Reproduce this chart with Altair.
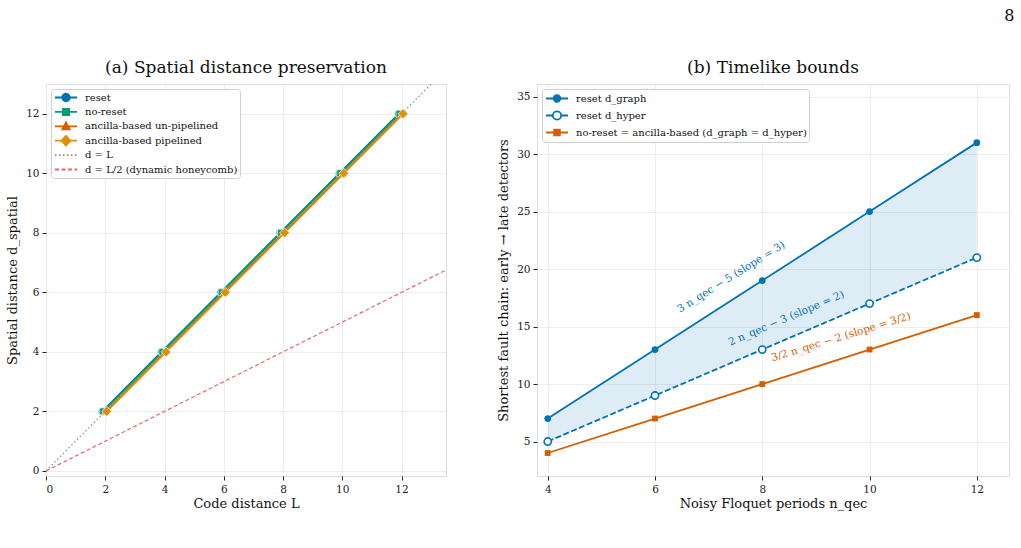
import altair as alt
import pandas as pd

FONT = "DejaVu Serif"

# ---------------- (a) spatial distance preservation ----------------
code_distance = [2, 4, 6, 8, 10, 12]
d_reset = [2, 4, 6, 8, 10, 12]
d_no_reset = [2, 4, 6, 8, 10, 12]
d_anc_unpipelined = [2, 4, 6, 8, 10, 12]
d_anc_pipelined = [2, 4, 6, 8, 10, 12]

# reference lines d = L and d = L/2, drawn across the whole x range
ref_L = [0, 13.5]
ref_full = [0, 13.5]
ref_half = [0, 6.75]

# ---------------- (b) timelike bounds ----------------
n_qec = [4, 6, 8, 10, 12]
reset_graph = [7, 13, 19, 25, 31]
reset_hyper = [5, 9, 13, 17, 21]
no_reset_b = [4, 7, 10, 13, 16]

BLUE = "#0173B2"
GREEN = "#029E73"
VERMILION = "#D55E00"
GOLD = "#DE8F05"
GREY = "#8a8a8a"
LIGHTRED = "#e06a6a"

# overlapping series in (a) are nudged sideways so each stays visible
series_a = [
    dict(name="reset", values=d_reset, color=BLUE, shape="circle", size=64, dodge=-0.10),
    dict(name="no-reset", values=d_no_reset, color=GREEN, shape="square", size=49, dodge=-0.07),
    dict(name="ancilla-based un-pipelined", values=d_anc_unpipelined, color=VERMILION,
         shape="triangle-up", size=64, dodge=0.02),
    dict(name="ancilla-based pipelined", values=d_anc_pipelined, color=GOLD,
         shape="diamond", size=100, dodge=0.05),
]


# legend swatches: a short line segment with the marker in its centre
def circle_path(r, gap=False):
    line = f"M-1,0L{-r},0M{r},0L1,0" if gap else "M-1,0L1,0"
    return f"{line}M{r},0A{r},{r} 0 1,1 {-r},0A{r},{r} 0 1,1 {r},0Z"


def square_path(h):
    return f"M-1,0L1,0M{-h},{-h}L{h},{-h}L{h},{h}L{-h},{h}Z"


TRIANGLE = "M-1,0L1,0M0,-0.36L0.34,0.28L-0.34,0.28Z"
DIAMOND = "M-1,0L1,0M0,-0.44L0.4,0L0,0.44L-0.4,0Z"
LINE = "M-1,0L1,0"

axis_style = dict(
    labelFont=FONT, titleFont=FONT, labelFontSize=10.5, titleFontSize=13,
    titleFontWeight="normal", labelColor="#222", titleColor="#111",
    tickColor="#222", tickSize=4, domain=False, gridColor="#e8e8e8", gridWidth=0.8,
)


def legend_props(**kw):
    base = dict(
        orient="top-left", offset=5, padding=2, title=None,
        fillColor="rgba(255,255,255,0.85)", strokeColor="#cfcfcf", cornerRadius=3,
        symbolSize=484, symbolStrokeWidth=1.8, symbolOffset=1,
        labelFont=FONT, labelFontSize=10, labelColor="#111", labelOffset=7,
        labelLimit=500, clipHeight=13, rowPadding=1.4,
    )
    base.update(kw)
    return alt.Legend(**base)


# ---------------- panel (a) ----------------
def xa():
    return alt.X("x:Q", scale=alt.Scale(domain=[0, 13.5], nice=False, zero=False),
                 axis=alt.Axis(values=list(range(0, 13, 2)), title="Code distance L",
                               labelPadding=4.5, titlePadding=2.5, **axis_style))


def ya():
    return alt.Y("y:Q", scale=alt.Scale(domain=[-0.17, 13], nice=False, zero=False),
                 axis=alt.Axis(values=list(range(0, 13, 2)), title="Spatial distance d_spatial",
                               labelPadding=3, titlePadding=6, **axis_style))


layers_a = []
ref_df = pd.DataFrame({"x": ref_L, "y": ref_full})
half_df = pd.DataFrame({"x": ref_L, "y": ref_half})
layers_a.append(alt.Chart(ref_df).mark_line(color=GREY, strokeWidth=1.2, strokeDash=[1.5, 2.5],
                                            clip=True).encode(x=xa(), y=ya()))
layers_a.append(alt.Chart(half_df).mark_line(color=LIGHTRED, strokeWidth=1.2, strokeDash=[4, 2.5],
                                             clip=True).encode(x=xa(), y=ya()))

for s in series_a:
    df = pd.DataFrame({"L": code_distance, "y": s["values"]})
    base = alt.Chart(df).transform_calculate(x=f"datum.L + ({s['dodge']})")
    layers_a.append(base.mark_line(color=s["color"], strokeWidth=1.8, clip=True).encode(x=xa(), y=ya()))
    layers_a.append(base.mark_point(shape=s["shape"], size=s["size"], filled=True, fill=s["color"],
                                    stroke="white", strokeWidth=0.7, opacity=1, clip=True)
                    .encode(x=xa(), y=ya()))

names_a = [s["name"] for s in series_a] + ["d = L", "d = L/2 (dynamic honeycomb)"]
leg_a = legend_props()
legend_df_a = pd.DataFrame({"series": names_a, "x": 0.0, "y": 0.0})
layers_a.append(
    alt.Chart(legend_df_a).transform_filter("false")
    .mark_point(filled=True, opacity=1, strokeWidth=1.8)
    .encode(
        x=xa(), y=ya(),
        stroke=alt.Stroke("series:N", legend=leg_a, scale=alt.Scale(
            domain=names_a, range=[BLUE, GREEN, VERMILION, GOLD, GREY, LIGHTRED])),
        fill=alt.Fill("series:N", legend=leg_a, scale=alt.Scale(
            domain=names_a, range=[BLUE, GREEN, VERMILION, GOLD, "transparent", "transparent"])),
        shape=alt.Shape("series:N", legend=leg_a, scale=alt.Scale(
            domain=names_a, range=[circle_path(0.34), square_path(0.28), TRIANGLE, DIAMOND, LINE, LINE])),
        strokeDash=alt.StrokeDash("series:N", legend=leg_a, scale=alt.Scale(
            domain=names_a, range=[[1, 0], [1, 0], [1, 0], [1, 0], [1.5, 2.5], [4, 2.5]])),
    )
)

panel_a = alt.layer(*layers_a).properties(
    width=400, height=392,
    title=alt.TitleParams("(a) Spatial distance preservation", font=FONT, fontSize=17,
                          fontWeight="normal", color="#111", offset=7, anchor="middle", frame="group"),
)


# ---------------- panel (b) ----------------
def xb():
    return alt.X("x:Q", scale=alt.Scale(domain=[3.8, 12.6], nice=False, zero=False),
                 axis=alt.Axis(values=n_qec, title="Noisy Floquet periods n_qec",
                               labelPadding=4.5, titlePadding=2.5, **axis_style))


def yb(field="y"):
    return alt.Y(f"{field}:Q", scale=alt.Scale(domain=[2, 36.1], nice=False, zero=False),
                 axis=alt.Axis(values=list(range(5, 36, 5)),
                               title="Shortest fault chain: early → late detectors",
                               labelPadding=3, titlePadding=6, **axis_style))


band_df = pd.DataFrame({"x": n_qec, "graph": reset_graph, "hyper": reset_hyper})
graph_df = pd.DataFrame({"x": n_qec, "y": reset_graph})
hyper_df = pd.DataFrame({"x": n_qec, "y": reset_hyper})
noreset_df = pd.DataFrame({"x": n_qec, "y": no_reset_b})

layers_b = [
    alt.Chart(band_df).mark_area(color=BLUE, opacity=0.13).encode(
        x=xb(), y=yb("graph"), y2=alt.Y2("hyper:Q")),
    alt.Chart(graph_df).mark_line(color=BLUE, strokeWidth=1.8).encode(x=xb(), y=yb()),
    alt.Chart(graph_df).mark_point(shape="circle", size=46, filled=True, color=BLUE, opacity=1)
    .encode(x=xb(), y=yb()),
    alt.Chart(hyper_df).mark_line(color=BLUE, strokeWidth=1.8, strokeDash=[6, 2.5]).encode(x=xb(), y=yb()),
    alt.Chart(hyper_df).mark_point(shape="circle", size=52, filled=False, fill="white", stroke=BLUE,
                                   strokeWidth=1.6, opacity=1).encode(x=xb(), y=yb()),
    alt.Chart(noreset_df).mark_line(color=VERMILION, strokeWidth=1.8).encode(x=xb(), y=yb()),
    alt.Chart(noreset_df).mark_point(shape="square", size=34, filled=True, color=VERMILION, opacity=1)
    .encode(x=xb(), y=yb()),
]

# slope annotations along each line
annotations = [
    dict(text="3 n_qec − 5  (slope = 3)", x=7.42, y=19.3, angle=328, color=BLUE),
    dict(text="2 n_qec − 3  (slope = 2)", x=8.45, y=15.7, angle=337, color=BLUE),
    dict(text="3/2 n_qec − 2  (slope = 3/2)", x=9.47, y=14.07, angle=343, color=VERMILION),
]
for a in annotations:
    adf = pd.DataFrame({"x": [a["x"]], "y": [a["y"]], "label": [a["text"]]})
    layers_b.append(
        alt.Chart(adf).mark_text(font=FONT, fontSize=10.5, angle=a["angle"], color=a["color"],
                                 align="center", baseline="middle")
        .encode(x=xb(), y=yb(), text="label:N"))

names_b = ["reset d_graph", "reset d_hyper", "no-reset = ancilla-based (d_graph = d_hyper)"]
leg_b = legend_props(clipHeight=15, rowPadding=2, offset=5)
legend_df_b = pd.DataFrame({"series": names_b, "x": 4.0, "y": 5.0})
layers_b.append(
    alt.Chart(legend_df_b).transform_filter("false")
    .mark_point(filled=True, opacity=1, strokeWidth=1.8)
    .encode(
        x=xb(), y=yb(),
        stroke=alt.Stroke("series:N", legend=leg_b, scale=alt.Scale(
            domain=names_b, range=[BLUE, BLUE, VERMILION])),
        fill=alt.Fill("series:N", legend=leg_b, scale=alt.Scale(
            domain=names_b, range=[BLUE, "white", VERMILION])),
        shape=alt.Shape("series:N", legend=leg_b, scale=alt.Scale(
            domain=names_b, range=[circle_path(0.3), circle_path(0.38, gap=True), square_path(0.26)])),
    )
)

panel_b = alt.layer(*layers_b).properties(
    width=472, height=392,
    title=alt.TitleParams("(b) Timelike bounds", font=FONT, fontSize=17, fontWeight="normal",
                          color="#111", offset=7, anchor="middle", frame="group"),
)

chart = (
    alt.hconcat(panel_a, panel_b, spacing=50)
    .resolve_scale(stroke="independent", fill="independent", shape="independent",
                   strokeDash="independent")
    .resolve_legend(stroke="independent", fill="independent", shape="independent",
                    strokeDash="independent")
    .properties(
        title=alt.TitleParams("8", anchor="end", font=FONT, fontSize=16, fontWeight="normal",
                              color="#111", offset=35, dx=5),
        padding={"left": 6, "top": 7, "right": 5, "bottom": 5},
    )
    .configure_view(stroke="#222", strokeWidth=1.2)
    .configure(background="white")
)

chart.save("out.html", embed_options={"renderer": "svg", "actions": False})
